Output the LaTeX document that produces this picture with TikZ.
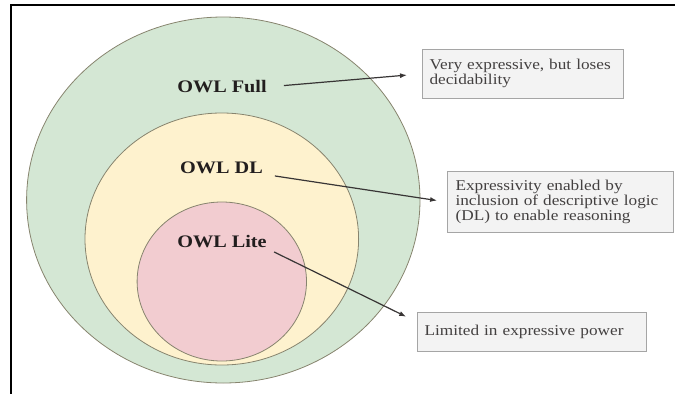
\documentclass[tikz,border=0pt]{standalone}
\usepackage{fontspec}
\setmainfont{Liberation Serif}
\newfontfamily\labelfont[FakeStretch=1.15]{Liberation Serif}
\newfontfamily\notefont[FakeStretch=1.15]{Liberation Serif}
\usetikzlibrary{arrows.meta}

\definecolor{fullfill}{RGB}{212,231,212}
\definecolor{dlfill}{RGB}{254,242,206}
\definecolor{litefill}{RGB}{242,204,208}
\definecolor{ringline}{RGB}{135,132,110}
\definecolor{notefill}{RGB}{243,243,243}
\definecolor{noteline}{RGB}{165,165,165}
\definecolor{ink}{RGB}{34,30,30}

\tikzset{
  ring/.style={draw=ringline, line width=0.8pt},
  level/.style={font=\labelfont\bfseries\fontsize{17.6}{20}\selectfont, text=ink, inner sep=0pt},
  note/.style={draw=noteline, fill=notefill, line width=1.1pt, anchor=north west,
    font=\notefont\fontsize{15}{15}\selectfont, text=ink!85, align=left,
    inner ysep=0pt},
  pointer/.style={draw=ink!90, line width=1.2pt, -{Latex[length=7pt,width=5pt]}}
}

\begin{document}
\begin{tikzpicture}[x=1pt,y=-1pt]
  \useasboundingbox (0,0) rectangle (675,394);

  % frame
  \draw[line width=2pt, black] (675,5) -- (10.5,5) -- (10.5,394);

  % nested sublanguages
  \fill[fullfill] (223.3,200) ellipse [x radius=196.7, y radius=183];
  \draw[ring] (223.3,200) ellipse [x radius=196.7, y radius=183];
  \fill[dlfill] (221.8,239) ellipse [x radius=136.8, y radius=126];
  \draw[ring] (221.8,239) ellipse [x radius=136.8, y radius=126];
  \fill[litefill] (221.8,281.5) ellipse [x radius=84.7, y radius=79.5];
  \draw[ring] (221.8,281.5) ellipse [x radius=84.7, y radius=79.5];

  % level names
  \node[level] (full) at (222,87) {OWL Full};
  \node[level] (dl) at (221.5,168) {OWL DL};
  \node[level] (lite) at (222,242) {OWL Lite};

  % descriptions
  \node[note, inner xsep=7pt, text width=187pt, minimum height=48.5pt] (box1) at (422,49)
    {Very expressive, but loses\\decidability};
  \node[note, inner xsep=8pt, text width=210pt, minimum height=61pt] (box2) at (447,171)
    {Expressivity enabled by\\inclusion of descriptive logic\\(DL) to enable reasoning};
  \node[note, inner xsep=7pt, text width=215pt, minimum height=39pt] (box3) at (417,312)
    {Limited in expressive power};

  % pointers
  \draw[pointer, shorten <=17pt, shorten >=15pt] (full.east) -- (box1.west);
  \draw[pointer, shorten <=12pt, shorten >=10pt] (dl.south east) -- (box2.west);
  \draw[pointer, shorten <=8pt, shorten >=12pt] (lite.south east) -- (box3.175);
\end{tikzpicture}
\end{document}
